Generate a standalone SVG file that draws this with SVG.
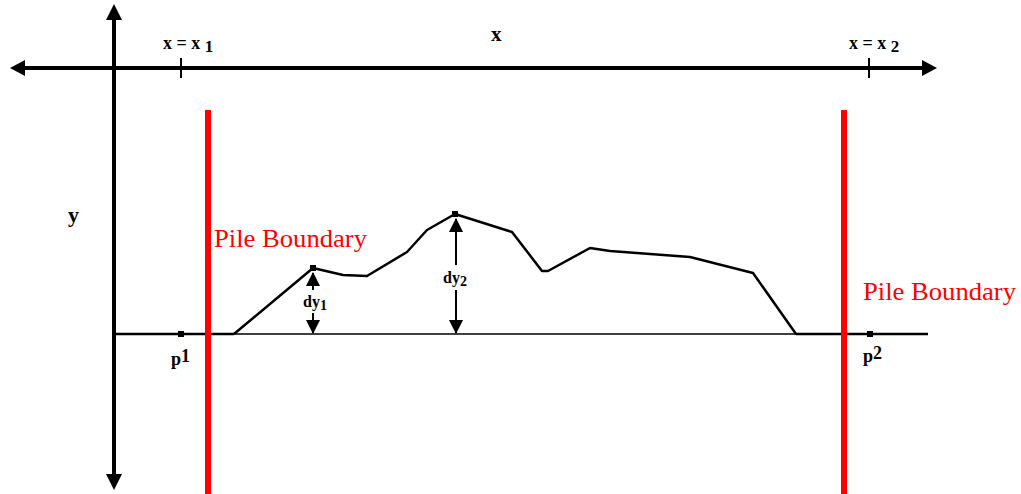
<svg xmlns="http://www.w3.org/2000/svg" width="1021" height="494" viewBox="0 0 1021 494">
<style>
text{font-family:"Liberation Serif","Times New Roman",Times,serif}
.lbl{font-weight:bold;fill:#000}
.red{fill:#ff0000}
.ax{stroke:#000;stroke-width:4;fill:none}
.dim{stroke:#000;stroke-width:2;fill:none}
</style>
<defs>
<marker id="dh" markerWidth="7" markerHeight="7" refX="6.5" refY="3.5" orient="auto" markerUnits="strokeWidth"><path d="M0,0 L7,3.5 L0,7 Z" fill="#000"/></marker>
</defs>
<g id="axes">
<line class="ax" x1="22" y1="68" x2="925" y2="68"/>
<line class="ax" x1="114" y1="17" x2="114" y2="478"/>
<polygon points="10,68 25,60 25,76" fill="#000"/>
<polygon points="937,68 922,60 922,76" fill="#000"/>
<polygon points="114,4 106,20 122,20" fill="#000"/>
<polygon points="114,490 106,474 122,474" fill="#000"/>
<line x1="181" y1="58" x2="181" y2="78" stroke="#000" stroke-width="2"/>
<line x1="869" y1="58" x2="869" y2="78" stroke="#000" stroke-width="2"/>
<text class="lbl" x="163" y="49" font-size="18">x = x <tspan dy="3" font-size="17">1</tspan></text>
<text class="lbl" x="849" y="49" font-size="18">x = x <tspan dy="3" font-size="17">2</tspan></text>
<text class="lbl" x="491" y="41" font-size="21">x</text>
<text class="lbl" x="68" y="222" font-size="22">y</text>
</g>
<g id="baseline">
<line x1="114" y1="334" x2="928" y2="334" stroke="#000" stroke-width="1.3"/>
<line x1="114" y1="334" x2="234" y2="334" stroke="#000" stroke-width="2.5"/>
<line x1="796" y1="334" x2="928" y2="334" stroke="#000" stroke-width="2.5"/>
<rect x="178" y="331" width="6" height="6" fill="#000"/>
<rect x="867" y="331" width="6" height="6" fill="#000"/>
<text class="lbl" x="171" y="365" font-size="18">p<tspan dy="-3">1</tspan></text>
<text class="lbl" x="863" y="362" font-size="18">p<tspan dy="-3">2</tspan></text>
</g>
<g id="profile">
<polyline fill="none" stroke="#000" stroke-width="2.5" stroke-linejoin="round" points="234,334 313,268 343,275 367,276 407,252 427,230 455,214 512,232 542,271 548,271 590,248 610,251 690,257 753,273 796,334"/>
<rect x="310" y="265" width="6" height="6" fill="#000"/>
<rect x="452" y="211" width="6" height="6" fill="#000"/>
</g>
<g id="dimensions">
<line class="dim" x1="313" y1="290" x2="313" y2="273" marker-end="url(#dh)"/>
<line class="dim" x1="313" y1="313" x2="313" y2="333" marker-end="url(#dh)"/>
<text class="lbl" x="303" y="307" font-size="16">dy<tspan dy="3" font-size="14">1</tspan></text>
<line class="dim" x1="456" y1="265" x2="456" y2="219" marker-end="url(#dh)"/>
<line class="dim" x1="456" y1="290" x2="456" y2="333" marker-end="url(#dh)"/>
<text class="lbl" x="443" y="283" font-size="16">dy<tspan dy="3" font-size="14">2</tspan></text>
</g>
<g id="pile-left">
<line x1="208" y1="110" x2="208" y2="494" stroke="#ff0000" stroke-width="6"/>
<text class="red" x="214" y="247" font-size="25" textLength="153" lengthAdjust="spacingAndGlyphs">Pile Boundary</text>
</g>
<g id="pile-right">
<line x1="844" y1="110" x2="844" y2="494" stroke="#ff0000" stroke-width="6"/>
<text class="red" x="863" y="300" font-size="25" textLength="153" lengthAdjust="spacingAndGlyphs">Pile Boundary</text>
</g>
</svg>
